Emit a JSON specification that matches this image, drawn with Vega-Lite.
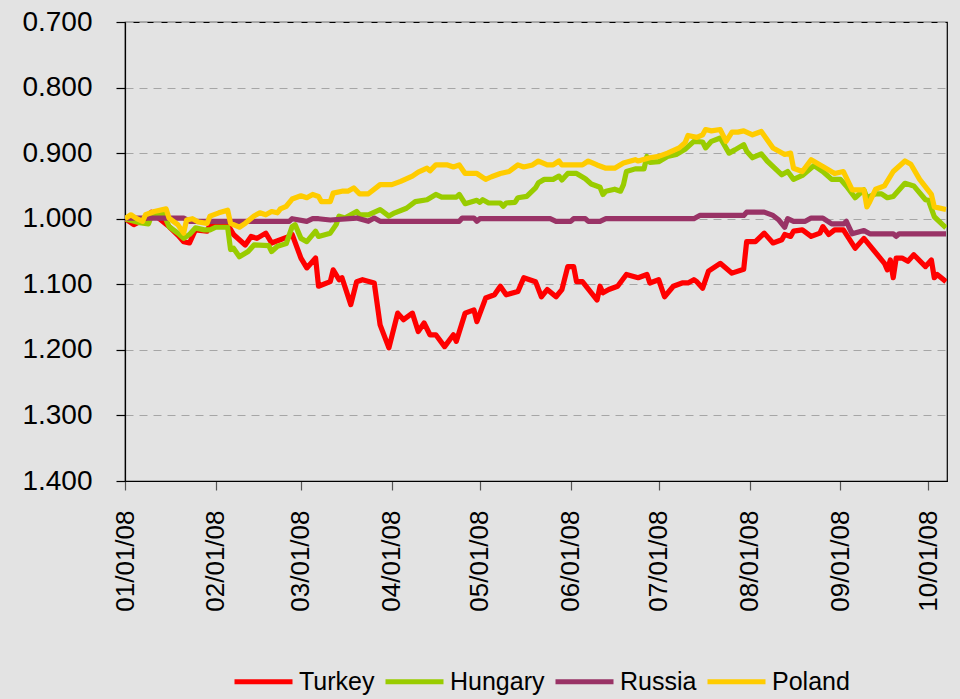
{
  "$schema": "https://vega.github.io/schema/vega-lite/v6.json",
  "width": 822,
  "height": 459,
  "autosize": {"type": "none"},
  "padding": {"left": 125, "top": 22, "right": 13, "bottom": 218},
  "background": "#e3e3e3",
  "config": {
    "view": {"stroke": "#000000", "strokeWidth": 1.2, "fill": "#e3e3e3"},
    "font": "Liberation Sans"
  },
  "datasets": {
    "fx": [
      {"date":"2008-01-01","country":"Turkey","value":1.000},
      {"date":"2008-01-04","country":"Turkey","value":1.009},
      {"date":"2008-01-08","country":"Turkey","value":1.000},
      {"date":"2008-01-10","country":"Turkey","value":0.990},
      {"date":"2008-01-16","country":"Turkey","value":1.012},
      {"date":"2008-01-19","country":"Turkey","value":1.025},
      {"date":"2008-01-21","country":"Turkey","value":1.035},
      {"date":"2008-01-23","country":"Turkey","value":1.037},
      {"date":"2008-01-25","country":"Turkey","value":1.017},
      {"date":"2008-01-29","country":"Turkey","value":1.019},
      {"date":"2008-01-30","country":"Turkey","value":1.009},
      {"date":"2008-02-05","country":"Turkey","value":1.009},
      {"date":"2008-02-07","country":"Turkey","value":1.024},
      {"date":"2008-02-11","country":"Turkey","value":1.040},
      {"date":"2008-02-13","country":"Turkey","value":1.027},
      {"date":"2008-02-15","country":"Turkey","value":1.030},
      {"date":"2008-02-18","country":"Turkey","value":1.022},
      {"date":"2008-02-20","country":"Turkey","value":1.037},
      {"date":"2008-02-26","country":"Turkey","value":1.027},
      {"date":"2008-02-27","country":"Turkey","value":1.024},
      {"date":"2008-03-01","country":"Turkey","value":1.060},
      {"date":"2008-03-03","country":"Turkey","value":1.075},
      {"date":"2008-03-06","country":"Turkey","value":1.060},
      {"date":"2008-03-07","country":"Turkey","value":1.103},
      {"date":"2008-03-11","country":"Turkey","value":1.096},
      {"date":"2008-03-12","country":"Turkey","value":1.078},
      {"date":"2008-03-14","country":"Turkey","value":1.093},
      {"date":"2008-03-15","country":"Turkey","value":1.090},
      {"date":"2008-03-18","country":"Turkey","value":1.131},
      {"date":"2008-03-20","country":"Turkey","value":1.096},
      {"date":"2008-03-22","country":"Turkey","value":1.093},
      {"date":"2008-03-26","country":"Turkey","value":1.098},
      {"date":"2008-03-28","country":"Turkey","value":1.162},
      {"date":"2008-03-31","country":"Turkey","value":1.197},
      {"date":"2008-04-03","country":"Turkey","value":1.144},
      {"date":"2008-04-05","country":"Turkey","value":1.154},
      {"date":"2008-04-08","country":"Turkey","value":1.144},
      {"date":"2008-04-10","country":"Turkey","value":1.172},
      {"date":"2008-04-12","country":"Turkey","value":1.159},
      {"date":"2008-04-14","country":"Turkey","value":1.177},
      {"date":"2008-04-16","country":"Turkey","value":1.177},
      {"date":"2008-04-19","country":"Turkey","value":1.195},
      {"date":"2008-04-22","country":"Turkey","value":1.177},
      {"date":"2008-04-23","country":"Turkey","value":1.187},
      {"date":"2008-04-26","country":"Turkey","value":1.144},
      {"date":"2008-04-29","country":"Turkey","value":1.139},
      {"date":"2008-04-30","country":"Turkey","value":1.157},
      {"date":"2008-05-03","country":"Turkey","value":1.121},
      {"date":"2008-05-06","country":"Turkey","value":1.116},
      {"date":"2008-05-08","country":"Turkey","value":1.103},
      {"date":"2008-05-10","country":"Turkey","value":1.116},
      {"date":"2008-05-14","country":"Turkey","value":1.111},
      {"date":"2008-05-16","country":"Turkey","value":1.090},
      {"date":"2008-05-20","country":"Turkey","value":1.096},
      {"date":"2008-05-22","country":"Turkey","value":1.119},
      {"date":"2008-05-24","country":"Turkey","value":1.108},
      {"date":"2008-05-27","country":"Turkey","value":1.119},
      {"date":"2008-05-29","country":"Turkey","value":1.108},
      {"date":"2008-05-31","country":"Turkey","value":1.073},
      {"date":"2008-06-02","country":"Turkey","value":1.073},
      {"date":"2008-06-03","country":"Turkey","value":1.096},
      {"date":"2008-06-05","country":"Turkey","value":1.096},
      {"date":"2008-06-10","country":"Turkey","value":1.124},
      {"date":"2008-06-11","country":"Turkey","value":1.103},
      {"date":"2008-06-12","country":"Turkey","value":1.113},
      {"date":"2008-06-14","country":"Turkey","value":1.108},
      {"date":"2008-06-17","country":"Turkey","value":1.103},
      {"date":"2008-06-20","country":"Turkey","value":1.085},
      {"date":"2008-06-24","country":"Turkey","value":1.090},
      {"date":"2008-06-27","country":"Turkey","value":1.085},
      {"date":"2008-06-28","country":"Turkey","value":1.098},
      {"date":"2008-07-01","country":"Turkey","value":1.093},
      {"date":"2008-07-03","country":"Turkey","value":1.119},
      {"date":"2008-07-06","country":"Turkey","value":1.103},
      {"date":"2008-07-09","country":"Turkey","value":1.098},
      {"date":"2008-07-11","country":"Turkey","value":1.098},
      {"date":"2008-07-13","country":"Turkey","value":1.093},
      {"date":"2008-07-14","country":"Turkey","value":1.096},
      {"date":"2008-07-16","country":"Turkey","value":1.106},
      {"date":"2008-07-18","country":"Turkey","value":1.080},
      {"date":"2008-07-22","country":"Turkey","value":1.068},
      {"date":"2008-07-26","country":"Turkey","value":1.083},
      {"date":"2008-07-30","country":"Turkey","value":1.077},
      {"date":"2008-07-31","country":"Turkey","value":1.035},
      {"date":"2008-08-03","country":"Turkey","value":1.035},
      {"date":"2008-08-06","country":"Turkey","value":1.022},
      {"date":"2008-08-09","country":"Turkey","value":1.037},
      {"date":"2008-08-12","country":"Turkey","value":1.032},
      {"date":"2008-08-13","country":"Turkey","value":1.024},
      {"date":"2008-08-15","country":"Turkey","value":1.027},
      {"date":"2008-08-16","country":"Turkey","value":1.019},
      {"date":"2008-08-19","country":"Turkey","value":1.017},
      {"date":"2008-08-22","country":"Turkey","value":1.027},
      {"date":"2008-08-25","country":"Turkey","value":1.022},
      {"date":"2008-08-26","country":"Turkey","value":1.012},
      {"date":"2008-08-28","country":"Turkey","value":1.024},
      {"date":"2008-08-30","country":"Turkey","value":1.017},
      {"date":"2008-09-02","country":"Turkey","value":1.017},
      {"date":"2008-09-06","country":"Turkey","value":1.045},
      {"date":"2008-09-09","country":"Turkey","value":1.030},
      {"date":"2008-09-16","country":"Turkey","value":1.068},
      {"date":"2008-09-17","country":"Turkey","value":1.078},
      {"date":"2008-09-18","country":"Turkey","value":1.063},
      {"date":"2008-09-19","country":"Turkey","value":1.090},
      {"date":"2008-09-20","country":"Turkey","value":1.060},
      {"date":"2008-09-22","country":"Turkey","value":1.060},
      {"date":"2008-09-24","country":"Turkey","value":1.065},
      {"date":"2008-09-26","country":"Turkey","value":1.055},
      {"date":"2008-09-30","country":"Turkey","value":1.073},
      {"date":"2008-10-02","country":"Turkey","value":1.063},
      {"date":"2008-10-03","country":"Turkey","value":1.090},
      {"date":"2008-10-04","country":"Turkey","value":1.085},
      {"date":"2008-10-07","country":"Turkey","value":1.096},

      {"date":"2008-01-01","country":"Hungary","value":1.000},
      {"date":"2008-01-06","country":"Hungary","value":1.006},
      {"date":"2008-01-09","country":"Hungary","value":1.008},
      {"date":"2008-01-10","country":"Hungary","value":0.996},
      {"date":"2008-01-14","country":"Hungary","value":0.991},
      {"date":"2008-01-16","country":"Hungary","value":1.012},
      {"date":"2008-01-19","country":"Hungary","value":1.022},
      {"date":"2008-01-21","country":"Hungary","value":1.030},
      {"date":"2008-01-23","country":"Hungary","value":1.024},
      {"date":"2008-01-25","country":"Hungary","value":1.014},
      {"date":"2008-01-28","country":"Hungary","value":1.017},
      {"date":"2008-01-30","country":"Hungary","value":1.017},
      {"date":"2008-02-01","country":"Hungary","value":1.013},
      {"date":"2008-02-05","country":"Hungary","value":1.013},
      {"date":"2008-02-06","country":"Hungary","value":1.047},
      {"date":"2008-02-07","country":"Hungary","value":1.045},
      {"date":"2008-02-09","country":"Hungary","value":1.058},
      {"date":"2008-02-12","country":"Hungary","value":1.050},
      {"date":"2008-02-14","country":"Hungary","value":1.040},
      {"date":"2008-02-19","country":"Hungary","value":1.041},
      {"date":"2008-02-20","country":"Hungary","value":1.050},
      {"date":"2008-02-22","country":"Hungary","value":1.042},
      {"date":"2008-02-25","country":"Hungary","value":1.038},
      {"date":"2008-02-27","country":"Hungary","value":1.012},
      {"date":"2008-02-28","country":"Hungary","value":1.009},
      {"date":"2008-03-01","country":"Hungary","value":1.030},
      {"date":"2008-03-03","country":"Hungary","value":1.035},
      {"date":"2008-03-06","country":"Hungary","value":1.019},
      {"date":"2008-03-07","country":"Hungary","value":1.027},
      {"date":"2008-03-11","country":"Hungary","value":1.022},
      {"date":"2008-03-13","country":"Hungary","value":1.009},
      {"date":"2008-03-14","country":"Hungary","value":0.996},
      {"date":"2008-03-16","country":"Hungary","value":0.999},
      {"date":"2008-03-20","country":"Hungary","value":0.989},
      {"date":"2008-03-21","country":"Hungary","value":0.994},
      {"date":"2008-03-24","country":"Hungary","value":0.994},
      {"date":"2008-03-28","country":"Hungary","value":0.986},
      {"date":"2008-03-31","country":"Hungary","value":0.996},
      {"date":"2008-04-02","country":"Hungary","value":0.991},
      {"date":"2008-04-06","country":"Hungary","value":0.984},
      {"date":"2008-04-09","country":"Hungary","value":0.974},
      {"date":"2008-04-13","country":"Hungary","value":0.971},
      {"date":"2008-04-16","country":"Hungary","value":0.963},
      {"date":"2008-04-18","country":"Hungary","value":0.967},
      {"date":"2008-04-23","country":"Hungary","value":0.967},
      {"date":"2008-04-24","country":"Hungary","value":0.963},
      {"date":"2008-04-26","country":"Hungary","value":0.977},
      {"date":"2008-04-30","country":"Hungary","value":0.972},
      {"date":"2008-05-01","country":"Hungary","value":0.975},
      {"date":"2008-05-02","country":"Hungary","value":0.971},
      {"date":"2008-05-04","country":"Hungary","value":0.976},
      {"date":"2008-05-08","country":"Hungary","value":0.976},
      {"date":"2008-05-09","country":"Hungary","value":0.981},
      {"date":"2008-05-10","country":"Hungary","value":0.976},
      {"date":"2008-05-13","country":"Hungary","value":0.975},
      {"date":"2008-05-14","country":"Hungary","value":0.968},
      {"date":"2008-05-17","country":"Hungary","value":0.966},
      {"date":"2008-05-20","country":"Hungary","value":0.953},
      {"date":"2008-05-21","country":"Hungary","value":0.945},
      {"date":"2008-05-23","country":"Hungary","value":0.940},
      {"date":"2008-05-26","country":"Hungary","value":0.940},
      {"date":"2008-05-28","country":"Hungary","value":0.935},
      {"date":"2008-05-29","country":"Hungary","value":0.941},
      {"date":"2008-05-31","country":"Hungary","value":0.931},
      {"date":"2008-06-03","country":"Hungary","value":0.931},
      {"date":"2008-06-06","country":"Hungary","value":0.939},
      {"date":"2008-06-08","country":"Hungary","value":0.947},
      {"date":"2008-06-11","country":"Hungary","value":0.952},
      {"date":"2008-06-12","country":"Hungary","value":0.963},
      {"date":"2008-06-13","country":"Hungary","value":0.958},
      {"date":"2008-06-16","country":"Hungary","value":0.955},
      {"date":"2008-06-18","country":"Hungary","value":0.958},
      {"date":"2008-06-19","country":"Hungary","value":0.948},
      {"date":"2008-06-20","country":"Hungary","value":0.928},
      {"date":"2008-06-23","country":"Hungary","value":0.924},
      {"date":"2008-06-26","country":"Hungary","value":0.924},
      {"date":"2008-06-27","country":"Hungary","value":0.905},
      {"date":"2008-06-28","country":"Hungary","value":0.914},
      {"date":"2008-07-01","country":"Hungary","value":0.913},
      {"date":"2008-07-04","country":"Hungary","value":0.905},
      {"date":"2008-07-07","country":"Hungary","value":0.902},
      {"date":"2008-07-10","country":"Hungary","value":0.894},
      {"date":"2008-07-13","country":"Hungary","value":0.882},
      {"date":"2008-07-16","country":"Hungary","value":0.883},
      {"date":"2008-07-17","country":"Hungary","value":0.892},
      {"date":"2008-07-19","country":"Hungary","value":0.882},
      {"date":"2008-07-22","country":"Hungary","value":0.877},
      {"date":"2008-07-25","country":"Hungary","value":0.900},
      {"date":"2008-07-27","country":"Hungary","value":0.895},
      {"date":"2008-07-30","country":"Hungary","value":0.887},
      {"date":"2008-07-31","country":"Hungary","value":0.897},
      {"date":"2008-08-02","country":"Hungary","value":0.907},
      {"date":"2008-08-05","country":"Hungary","value":0.901},
      {"date":"2008-08-07","country":"Hungary","value":0.912},
      {"date":"2008-08-12","country":"Hungary","value":0.933},
      {"date":"2008-08-14","country":"Hungary","value":0.928},
      {"date":"2008-08-16","country":"Hungary","value":0.940},
      {"date":"2008-08-19","country":"Hungary","value":0.934},
      {"date":"2008-08-23","country":"Hungary","value":0.919},
      {"date":"2008-08-26","country":"Hungary","value":0.928},
      {"date":"2008-08-29","country":"Hungary","value":0.940},
      {"date":"2008-09-01","country":"Hungary","value":0.940},
      {"date":"2008-09-03","country":"Hungary","value":0.950},
      {"date":"2008-09-06","country":"Hungary","value":0.968},
      {"date":"2008-09-09","country":"Hungary","value":0.956},
      {"date":"2008-09-10","country":"Hungary","value":0.968},
      {"date":"2008-09-13","country":"Hungary","value":0.962},
      {"date":"2008-09-15","country":"Hungary","value":0.962},
      {"date":"2008-09-17","country":"Hungary","value":0.968},
      {"date":"2008-09-19","country":"Hungary","value":0.966},
      {"date":"2008-09-23","country":"Hungary","value":0.946},
      {"date":"2008-09-26","country":"Hungary","value":0.950},
      {"date":"2008-09-30","country":"Hungary","value":0.971},
      {"date":"2008-10-01","country":"Hungary","value":0.972},
      {"date":"2008-10-03","country":"Hungary","value":0.997},
      {"date":"2008-10-07","country":"Hungary","value":1.014},

      {"date":"2008-01-01","country":"Russia","value":0.999},
      {"date":"2008-01-21","country":"Russia","value":0.999},
      {"date":"2008-01-23","country":"Russia","value":1.004},
      {"date":"2008-02-26","country":"Russia","value":1.004},
      {"date":"2008-02-27","country":"Russia","value":1.000},
      {"date":"2008-03-03","country":"Russia","value":1.004},
      {"date":"2008-03-05","country":"Russia","value":1.000},
      {"date":"2008-03-07","country":"Russia","value":1.000},
      {"date":"2008-03-11","country":"Russia","value":1.002},
      {"date":"2008-03-20","country":"Russia","value":0.999},
      {"date":"2008-03-24","country":"Russia","value":1.004},
      {"date":"2008-03-26","country":"Russia","value":0.999},
      {"date":"2008-03-28","country":"Russia","value":1.004},
      {"date":"2008-04-24","country":"Russia","value":1.004},
      {"date":"2008-04-25","country":"Russia","value":0.999},
      {"date":"2008-04-29","country":"Russia","value":0.999},
      {"date":"2008-04-30","country":"Russia","value":1.004},
      {"date":"2008-05-01","country":"Russia","value":1.000},
      {"date":"2008-05-25","country":"Russia","value":1.000},
      {"date":"2008-05-27","country":"Russia","value":1.004},
      {"date":"2008-06-01","country":"Russia","value":1.004},
      {"date":"2008-06-02","country":"Russia","value":1.000},
      {"date":"2008-06-06","country":"Russia","value":1.000},
      {"date":"2008-06-07","country":"Russia","value":1.004},
      {"date":"2008-06-11","country":"Russia","value":1.004},
      {"date":"2008-06-13","country":"Russia","value":1.000},
      {"date":"2008-07-13","country":"Russia","value":1.000},
      {"date":"2008-07-15","country":"Russia","value":0.995},
      {"date":"2008-07-30","country":"Russia","value":0.995},
      {"date":"2008-07-31","country":"Russia","value":0.990},
      {"date":"2008-08-06","country":"Russia","value":0.990},
      {"date":"2008-08-09","country":"Russia","value":0.995},
      {"date":"2008-08-11","country":"Russia","value":1.002},
      {"date":"2008-08-13","country":"Russia","value":1.013},
      {"date":"2008-08-14","country":"Russia","value":1.000},
      {"date":"2008-08-16","country":"Russia","value":1.004},
      {"date":"2008-08-20","country":"Russia","value":1.004},
      {"date":"2008-08-22","country":"Russia","value":0.999},
      {"date":"2008-08-26","country":"Russia","value":0.999},
      {"date":"2008-08-29","country":"Russia","value":1.008},
      {"date":"2008-09-02","country":"Russia","value":1.008},
      {"date":"2008-09-03","country":"Russia","value":1.004},
      {"date":"2008-09-05","country":"Russia","value":1.023},
      {"date":"2008-09-09","country":"Russia","value":1.018},
      {"date":"2008-09-11","country":"Russia","value":1.023},
      {"date":"2008-09-19","country":"Russia","value":1.023},
      {"date":"2008-09-20","country":"Russia","value":1.027},
      {"date":"2008-09-21","country":"Russia","value":1.023},
      {"date":"2008-10-07","country":"Russia","value":1.023},

      {"date":"2008-01-01","country":"Poland","value":1.000},
      {"date":"2008-01-03","country":"Poland","value":0.994},
      {"date":"2008-01-05","country":"Poland","value":1.000},
      {"date":"2008-01-07","country":"Poland","value":1.004},
      {"date":"2008-01-08","country":"Poland","value":0.994},
      {"date":"2008-01-11","country":"Poland","value":0.989},
      {"date":"2008-01-15","country":"Poland","value":0.985},
      {"date":"2008-01-16","country":"Poland","value":0.999},
      {"date":"2008-01-19","country":"Poland","value":1.009},
      {"date":"2008-01-21","country":"Poland","value":1.022},
      {"date":"2008-01-22","country":"Poland","value":1.002},
      {"date":"2008-01-24","country":"Poland","value":1.000},
      {"date":"2008-01-26","country":"Poland","value":1.005},
      {"date":"2008-01-29","country":"Poland","value":1.007},
      {"date":"2008-01-30","country":"Poland","value":0.996},
      {"date":"2008-02-02","country":"Poland","value":0.991},
      {"date":"2008-02-05","country":"Poland","value":0.987},
      {"date":"2008-02-06","country":"Poland","value":1.007},
      {"date":"2008-02-09","country":"Poland","value":1.013},
      {"date":"2008-02-11","country":"Poland","value":1.007},
      {"date":"2008-02-14","country":"Poland","value":0.996},
      {"date":"2008-02-16","country":"Poland","value":0.991},
      {"date":"2008-02-18","country":"Poland","value":0.994},
      {"date":"2008-02-20","country":"Poland","value":0.989},
      {"date":"2008-02-22","country":"Poland","value":0.991},
      {"date":"2008-02-23","country":"Poland","value":0.985},
      {"date":"2008-02-25","country":"Poland","value":0.981},
      {"date":"2008-02-27","country":"Poland","value":0.970},
      {"date":"2008-03-01","country":"Poland","value":0.965},
      {"date":"2008-03-03","country":"Poland","value":0.968},
      {"date":"2008-03-05","country":"Poland","value":0.963},
      {"date":"2008-03-07","country":"Poland","value":0.966},
      {"date":"2008-03-08","country":"Poland","value":0.974},
      {"date":"2008-03-11","country":"Poland","value":0.974},
      {"date":"2008-03-12","country":"Poland","value":0.961},
      {"date":"2008-03-15","country":"Poland","value":0.958},
      {"date":"2008-03-17","country":"Poland","value":0.958},
      {"date":"2008-03-19","country":"Poland","value":0.953},
      {"date":"2008-03-21","country":"Poland","value":0.962},
      {"date":"2008-03-24","country":"Poland","value":0.962},
      {"date":"2008-03-28","country":"Poland","value":0.948},
      {"date":"2008-04-01","country":"Poland","value":0.948},
      {"date":"2008-04-04","country":"Poland","value":0.943},
      {"date":"2008-04-08","country":"Poland","value":0.935},
      {"date":"2008-04-10","country":"Poland","value":0.929},
      {"date":"2008-04-13","country":"Poland","value":0.923},
      {"date":"2008-04-14","country":"Poland","value":0.927},
      {"date":"2008-04-16","country":"Poland","value":0.918},
      {"date":"2008-04-20","country":"Poland","value":0.918},
      {"date":"2008-04-22","country":"Poland","value":0.921},
      {"date":"2008-04-24","country":"Poland","value":0.918},
      {"date":"2008-04-26","country":"Poland","value":0.931},
      {"date":"2008-04-30","country":"Poland","value":0.931},
      {"date":"2008-05-03","country":"Poland","value":0.940},
      {"date":"2008-05-05","country":"Poland","value":0.936},
      {"date":"2008-05-08","country":"Poland","value":0.931},
      {"date":"2008-05-11","country":"Poland","value":0.928},
      {"date":"2008-05-14","country":"Poland","value":0.918},
      {"date":"2008-05-16","country":"Poland","value":0.921},
      {"date":"2008-05-19","country":"Poland","value":0.918},
      {"date":"2008-05-21","country":"Poland","value":0.912},
      {"date":"2008-05-24","country":"Poland","value":0.918},
      {"date":"2008-05-26","country":"Poland","value":0.918},
      {"date":"2008-05-28","country":"Poland","value":0.912},
      {"date":"2008-05-29","country":"Poland","value":0.918},
      {"date":"2008-06-05","country":"Poland","value":0.918},
      {"date":"2008-06-07","country":"Poland","value":0.912},
      {"date":"2008-06-10","country":"Poland","value":0.918},
      {"date":"2008-06-13","country":"Poland","value":0.923},
      {"date":"2008-06-16","country":"Poland","value":0.923},
      {"date":"2008-06-19","country":"Poland","value":0.915},
      {"date":"2008-06-23","country":"Poland","value":0.910},
      {"date":"2008-06-24","country":"Poland","value":0.912},
      {"date":"2008-06-28","country":"Poland","value":0.907},
      {"date":"2008-07-01","country":"Poland","value":0.905},
      {"date":"2008-07-04","country":"Poland","value":0.900},
      {"date":"2008-07-08","country":"Poland","value":0.892},
      {"date":"2008-07-10","country":"Poland","value":0.884},
      {"date":"2008-07-11","country":"Poland","value":0.873},
      {"date":"2008-07-14","country":"Poland","value":0.876},
      {"date":"2008-07-16","country":"Poland","value":0.872},
      {"date":"2008-07-17","country":"Poland","value":0.864},
      {"date":"2008-07-19","country":"Poland","value":0.866},
      {"date":"2008-07-22","country":"Poland","value":0.864},
      {"date":"2008-07-24","country":"Poland","value":0.882},
      {"date":"2008-07-26","country":"Poland","value":0.868},
      {"date":"2008-07-28","country":"Poland","value":0.868},
      {"date":"2008-07-30","country":"Poland","value":0.866},
      {"date":"2008-08-02","country":"Poland","value":0.872},
      {"date":"2008-08-05","country":"Poland","value":0.867},
      {"date":"2008-08-09","country":"Poland","value":0.892},
      {"date":"2008-08-13","country":"Poland","value":0.902},
      {"date":"2008-08-15","country":"Poland","value":0.900},
      {"date":"2008-08-16","country":"Poland","value":0.923},
      {"date":"2008-08-19","country":"Poland","value":0.928},
      {"date":"2008-08-22","country":"Poland","value":0.910},
      {"date":"2008-08-27","country":"Poland","value":0.923},
      {"date":"2008-08-30","country":"Poland","value":0.931},
      {"date":"2008-09-02","country":"Poland","value":0.928},
      {"date":"2008-09-05","country":"Poland","value":0.956},
      {"date":"2008-09-09","country":"Poland","value":0.956},
      {"date":"2008-09-10","country":"Poland","value":0.982},
      {"date":"2008-09-11","country":"Poland","value":0.974},
      {"date":"2008-09-13","country":"Poland","value":0.955},
      {"date":"2008-09-16","country":"Poland","value":0.950},
      {"date":"2008-09-19","country":"Poland","value":0.928},
      {"date":"2008-09-23","country":"Poland","value":0.912},
      {"date":"2008-09-25","country":"Poland","value":0.917},
      {"date":"2008-09-28","country":"Poland","value":0.940},
      {"date":"2008-10-02","country":"Poland","value":0.963},
      {"date":"2008-10-03","country":"Poland","value":0.982},
      {"date":"2008-10-07","country":"Poland","value":0.986}
    ]
  },
  "data": {"name": "fx"},
  "mark": {"type": "line", "strokeWidth": 5.2, "strokeJoin": "round", "clip": true},
  "encoding": {
    "x": {
      "field": "date",
      "type": "temporal",
      "scale": {
        "type": "utc",
        "domain": [
          {"year": 2008, "month": 1, "date": 1, "utc": true},
          {"year": 2008, "month": 10, "date": 7, "hours": 8, "utc": true}
        ]
      },
      "axis": {
        "title": null,
        "format": "%m/%d/%y",
        "values": [
          {"year": 2008, "month": 1, "date": 1, "utc": true},
          {"year": 2008, "month": 2, "date": 1, "utc": true},
          {"year": 2008, "month": 3, "date": 1, "utc": true},
          {"year": 2008, "month": 4, "date": 1, "utc": true},
          {"year": 2008, "month": 5, "date": 1, "utc": true},
          {"year": 2008, "month": 6, "date": 1, "utc": true},
          {"year": 2008, "month": 7, "date": 1, "utc": true},
          {"year": 2008, "month": 8, "date": 1, "utc": true},
          {"year": 2008, "month": 9, "date": 1, "utc": true},
          {"year": 2008, "month": 10, "date": 1, "utc": true}
        ],
        "labelAngle": 270,
        "labelFontSize": 26,
        "labelColor": "#000000",
        "labelPadding": 20,
        "tickSize": 9,
        "tickColor": "#555555",
        "tickWidth": 1.2,
        "domainColor": "#000000",
        "domainWidth": 1.2,
        "grid": false,
        "labelOverlap": false,
        "labelBound": false,
        "labelFlush": false
      }
    },
    "y": {
      "field": "value",
      "type": "quantitative",
      "scale": {"domain": [0.7, 1.4], "reverse": true, "nice": false, "zero": false},
      "axis": {
        "title": null,
        "values": [0.7, 0.8, 0.9, 1.0, 1.1, 1.2, 1.3, 1.4],
        "format": ".3f",
        "labelFontSize": 28,
        "labelColor": "#000000",
        "labelPadding": 24,
        "tickSize": 9,
        "tickColor": "#000000",
        "tickWidth": 1.2,
        "domainColor": "#000000",
        "domainWidth": 1.2,
        "grid": true,
        "gridColor": "#a6a6a6",
        "gridDash": [8, 6],
        "gridWidth": 1,
        "labelOverlap": false
      }
    },
    "color": {
      "field": "country",
      "type": "nominal",
      "scale": {
        "domain": ["Turkey", "Hungary", "Russia", "Poland"],
        "range": ["#ff0000", "#99cc00", "#993366", "#ffcc00"]
      },
      "legend": {
        "title": null,
        "orient": "none",
        "direction": "horizontal",
        "legendX": 107,
        "legendY": 628,
        "padding": 0,
        "symbolType": "stroke",
        "symbolSize": 3364,
        "symbolStrokeWidth": 5,
        "labelFontSize": 25,
        "labelColor": "#000000",
        "labelOffset": 4,
        "columnPadding": 0,
        "labelLimit": 300
      }
    }
  }
}
